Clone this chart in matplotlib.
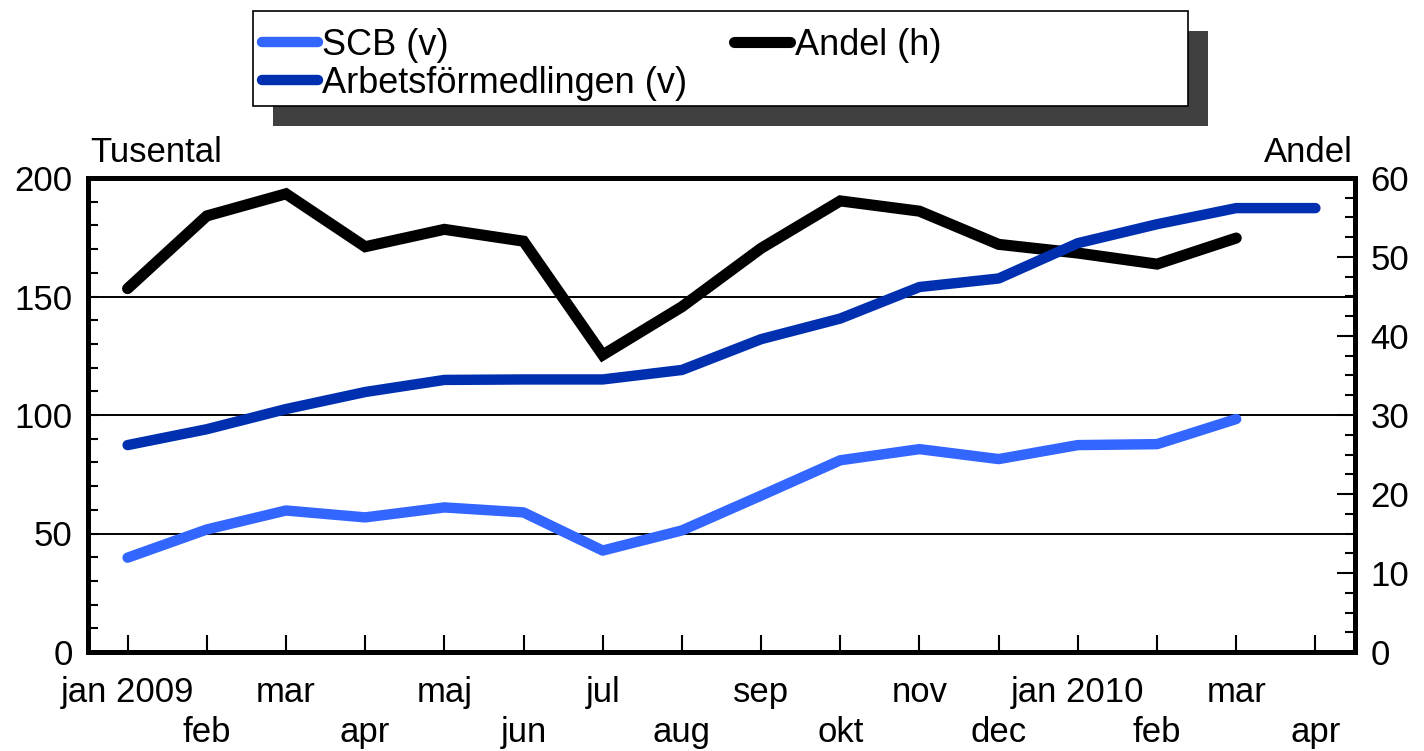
import numpy as np
import matplotlib
matplotlib.use("Agg")
import matplotlib.pyplot as plt
from matplotlib.patches import Rectangle

plt.rcParams['font.family'] = ['Liberation Sans', 'DejaVu Sans']

months = ["jan 2009", "feb", "mar", "apr", "maj", "jun", "jul", "aug", "sep",
          "okt", "nov", "dec", "jan 2010", "feb", "mar", "apr"]
scb = [39.8, 51.7, 59.7, 56.8, 61.0, 58.9, 42.8, 51.3, 66.0, 80.9, 85.6, 81.4, 87.3, 87.7, 98.3]
arbetsformedlingen = [87.3, 94.0, 102.5, 109.7, 114.8, 115.0, 115.0, 119.0, 132.0, 140.7,
                      154.0, 157.6, 172.5, 180.5, 187.3, 187.3]
andel = [46.0, 55.2, 58.0, 51.3, 53.5, 52.0, 37.6, 43.7, 51.1, 57.1, 55.8, 51.6, 50.5, 49.1, 52.4]

W, H = 1424, 751
fig = plt.figure(figsize=(W / 100, H / 100), dpi=100)
fig.patch.set_facecolor('white')

ax = fig.add_axes([88 / W, 1 - 652 / H, (1355 - 88) / W, (652 - 178) / H])
ax2 = ax.twinx()
ax.set_zorder(ax2.get_zorder() + 1)
ax.patch.set_visible(False)

x = np.arange(len(months))
c_scb = '#3366FF'
c_af = '#0030B0'

l_andel, = ax2.plot(x[:len(andel)], andel, color='black', lw=8, solid_capstyle='round',
                    solid_joinstyle='miter', label='Andel (h)')
l_scb, = ax.plot(x[:len(scb)], scb, color=c_scb, lw=7.5, solid_capstyle='round',
                 solid_joinstyle='round', label='SCB (v)', zorder=3)
l_af, = ax.plot(x[:len(arbetsformedlingen)], arbetsformedlingen, color=c_af, lw=7.5,
                solid_capstyle='round', solid_joinstyle='round',
                label='Arbetsförmedlingen (v)', zorder=3)

ax.set_xlim(-0.5, len(months) - 0.5)
ax.set_ylim(0, 200)
ax2.set_ylim(0, 60)

for gy in [50, 100, 150]:
    ax.axhline(gy, color='black', lw=1.4, zorder=1)

fs = 25
ax.set_yticks([0, 50, 100, 150, 200])
ax.set_yticks(np.arange(0, 201, 10), minor=True)
ax.tick_params(axis='y', which='both', direction='in', length=7, width=1.5,
               labelsize=fs, pad=11, left=True, right=False)
ax2.set_yticks(np.arange(0, 61, 10))
ax2.set_yticks(np.arange(0, 61, 2.5), minor=True)
ax2.tick_params(axis='y', which='major', direction='in', length=13, width=1.5,
                labelsize=fs, pad=11)
ax2.tick_params(axis='y', which='minor', direction='in', length=7, width=1.5)

ax.set_xticks(x[::2])
ax.set_xticklabels(months[::2])
ax.set_xticks(x[1::2], minor=True)
ax.set_xticklabels(months[1::2], minor=True)
ax.tick_params(axis='x', which='major', direction='in', length=12, width=1.5,
               labelsize=fs, pad=17, top=False)
ax.tick_params(axis='x', which='minor', direction='in', length=12, width=1.5,
               labelsize=fs, pad=46, top=False)

for a in (ax, ax2):
    for s in a.spines.values():
        s.set_linewidth(3.6)
        s.set_color('black')

fig.text(90 / W, 1 - 152 / H, 'Tusental', ha='left', va='center', fontsize=fs)
fig.text(1353 / W, 1 - 152 / H, 'Andel', ha='right', va='center', fontsize=fs)

# legend box with shadow
fig.add_artist(Rectangle((273 / W, 1 - 126 / H), (1188 - 253) / W, 95 / H,
                         transform=fig.transFigure, facecolor='#404040',
                         edgecolor='none', zorder=5))
fig.add_artist(Rectangle((253 / W, 1 - 106 / H), (1188 - 253) / W, 95 / H,
                         transform=fig.transFigure, facecolor='white',
                         edgecolor='black', lw=1.2, zorder=6))
leg = fig.legend(handles=[l_scb, l_af, l_andel],
                 labels=['SCB (v)', 'Arbetsförmedlingen (v)', 'Andel (h)'],
                 ncol=2, loc='upper left', bbox_to_anchor=(262 / W, 1 - 28 / H),
                 frameon=False, fontsize=26, handlelength=1.55, handletextpad=0.12,
                 columnspacing=1.3, labelspacing=0.07, borderpad=0, borderaxespad=0)
leg.set_zorder(7)

fig.savefig('out.png', dpi=100, facecolor='white')
